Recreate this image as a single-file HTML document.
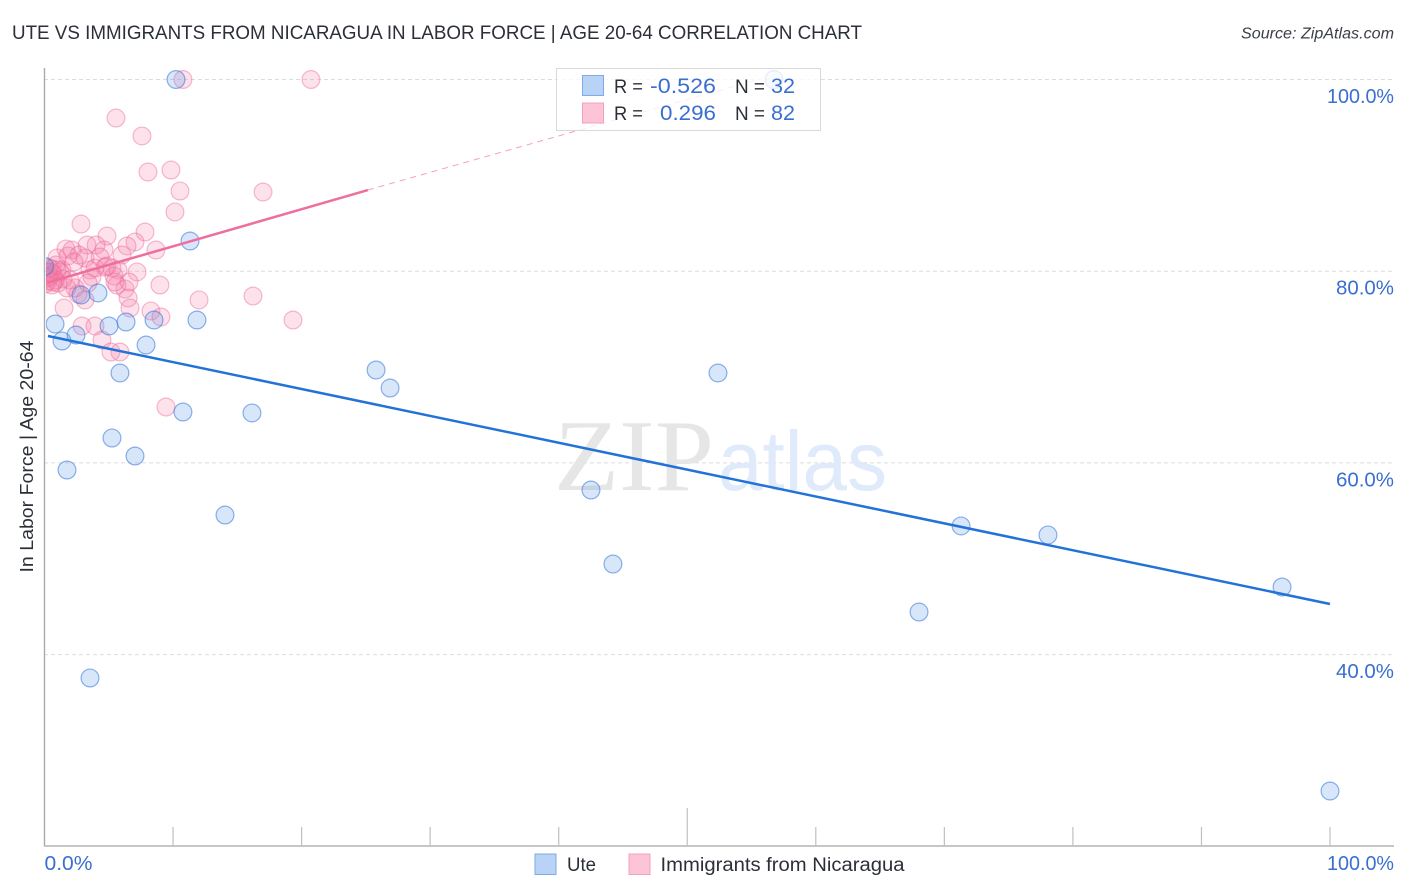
<!DOCTYPE html>
<html>
<head>
<meta charset="utf-8">
<style>
html,body{margin:0;padding:0;background:#fff;}
svg{display:block;font-family:"Liberation Sans",sans-serif;}
</style>
</head>
<body>
<svg id="chart" width="1406" height="892" viewBox="0 0 1406 892">
  <defs><clipPath id="plotClip"><rect x="46" y="60" width="1348" height="786"/></clipPath></defs>
  <rect x="0" y="0" width="1406" height="892" fill="#fff"/>
  <text x="12" y="39" font-size="19" fill="#2b2f38" textLength="850" lengthAdjust="spacingAndGlyphs">UTE VS IMMIGRANTS FROM NICARAGUA IN LABOR FORCE | AGE 20-64 CORRELATION CHART</text>
  <text x="1394" y="38.500" font-size="15.500" font-style="italic" fill="#3a3f47" text-anchor="end" textLength="153" lengthAdjust="spacingAndGlyphs">Source: ZipAtlas.com</text>
  <g id="grid"></g>
  <g>
    <text x="554" y="490" font-family="'Liberation Serif',serif" font-size="102" fill="#e6e6e6" textLength="160" lengthAdjust="spacingAndGlyphs">ZIP</text>
    <text x="718" y="490" font-size="84" fill="#dfeafa" textLength="169" lengthAdjust="spacingAndGlyphs">atlas</text>
  </g>
  <g id="pinkPoints" clip-path="url(#plotClip)"></g>
  <g id="bluePoints" clip-path="url(#plotClip)"></g>
  <g id="lines"></g>
  <g id="axes"></g>
  <text x="0" y="0" transform="translate(33,456.500) rotate(-90)" font-size="18" fill="#2b2f38" text-anchor="middle" textLength="232" lengthAdjust="spacingAndGlyphs">In Labor Force | Age 20-64</text>
  <g id="tickLabels"></g>

  <g>
    <rect x="556.500" y="68.500" width="264" height="62" fill="#fff" fill-opacity="0.78" stroke="#d9d9d9" stroke-width="1"/>
    <rect x="582.500" y="75.500" width="21" height="20" fill="#b8d3f6" stroke="#7eaae6" stroke-width="1"/>
    <rect x="582.500" y="103" width="21" height="20" fill="#fdc4d6" stroke="#f2a0bd" stroke-width="1"/>
    <text x="614" y="93" font-size="19" fill="#2b2f38" textLength="29" lengthAdjust="spacingAndGlyphs">R =</text>
    <text x="650" y="93" font-size="21" fill="#3a6fd0" textLength="66" lengthAdjust="spacingAndGlyphs">-0.526</text>
    <text x="735" y="93" font-size="19" fill="#2b2f38" textLength="30" lengthAdjust="spacingAndGlyphs">N =</text>
    <text x="771" y="93" font-size="21" fill="#3a6fd0" textLength="24" lengthAdjust="spacingAndGlyphs">32</text>
    <text x="614" y="120" font-size="19" fill="#2b2f38" textLength="29" lengthAdjust="spacingAndGlyphs">R =</text>
    <text x="660" y="120" font-size="21" fill="#3a6fd0" textLength="56" lengthAdjust="spacingAndGlyphs">0.296</text>
    <text x="735" y="120" font-size="19" fill="#2b2f38" textLength="30" lengthAdjust="spacingAndGlyphs">N =</text>
    <text x="771" y="120" font-size="21" fill="#3a6fd0" textLength="24" lengthAdjust="spacingAndGlyphs">82</text>
  </g>

  <g>
    <rect x="535" y="854" width="21" height="20.500" fill="#b8d3f6" stroke="#7eaae6" stroke-width="1"/>
    <text x="567" y="871" font-size="19" fill="#2b2f38" textLength="29" lengthAdjust="spacingAndGlyphs">Ute</text>
    <rect x="629" y="854" width="21" height="20.500" fill="#fdc4d6" stroke="#f2a0bd" stroke-width="1"/>
    <text x="660.500" y="871" font-size="19" fill="#2b2f38" textLength="244" lengthAdjust="spacingAndGlyphs">Immigrants from Nicaragua</text>
  </g>
</svg>
<script>
// Chart data (percent values)
var uteX = [10.23,56.75,11.32,0.82,1.36,2.45,2.84,4.16,5.02,6.34,8.52,11.86,7.90,5.87,10.77,16.14,5.25,7.04,1.75,14.04,25.79,26.88,52.39,42.51,44.22,71.30,78.06,68.03,96.27,3.54,100.0,0];
var uteY = [100,100,83.15,74.49,72.72,73.34,77.52,77.73,74.28,74.70,74.91,74.91,72.30,69.38,65.31,65.21,62.60,60.72,59.26,54.56,69.69,67.81,69.38,57.17,49.45,53.42,52.48,44.44,47.05,37.56,25.77,80.5];
var immX = [10.77,20.73,5.56,7.58,8.05,9.84,10.54,17.0,10.15,2.84,7.82,4.86,7.04,6.42,8.67,4.63,4.01,3.31,1.67,2.14,6.03,2.68,3.15,4.32,0.97,1.83,5.25,4.71,3.54,5.72,7.2,1.36,0.58,0.27,0.04,1.21,0.66,0.12,0.43,0.04,0.58,1.75,2.37,3.7,5.41,6.26,5.64,6.57,8.98,6.5,3.15,12.02,16.22,1.52,6.65,8.28,9.06,19.33,2.92,3.93,4.47,5.87,5.17,9.45,2.61,5.48,2.29,3.93,4.86,0.89,1.05,1.44,1.98,3.38,0.82,0.27,0,0.5,0.97,0.27,0.66,0.35];
var immY = [100,100,95.98,94.11,90.35,90.56,88.37,88.26,86.18,84.92,84.09,83.67,83.05,82.63,82.21,82.21,82.73,82.73,82.32,82.21,81.69,81.69,81.38,81.48,81.38,81.59,80.33,80.44,80.13,80.13,79.92,80.13,80.23,79.92,79.92,79.92,79.71,79.29,79.5,78.66,78.56,78.25,78.25,79.4,79.5,78.14,78.56,78.87,78.56,77.21,77.0,77.0,77.41,76.16,76.16,75.85,75.22,74.91,74.28,74.28,72.82,71.57,71.57,65.83,77.62,78.87,80.96,80.33,80.54,80.65,78.77,79.19,79.08,78.77,79.08,78.98,79.5,79.9,80.13,79.3,78.87,80.33];
var uteTrendX = [0.27,100];
var uteTrendY = [73.24,45.28];
var immTrendX = [0.2,25.16];
var immTrendY = [78.8,88.47];
var immTrendDashX = [25.16,55.5];
var immTrendDashY = [88.47,100];
var yTickValues = [100,80,60,40];
var yTickLabels = ["100.0%","80.0%","60.0%","40.0%"];
var xTickValues = [10,20,30,40,50,60,70,80,90,100];
var xEdgeLabels = ["0.0%","100.0%"];

function sx(v){return 44.5+v*12.855;}
function sy(v){return 79.5+(100-v)*9.585;}
function labelWidth(s){return s.length>=6?67:(s.length===5?58:48);}
var NS='http://www.w3.org/2000/svg';
function mk(tag,parent,attrs){
  var e=document.createElementNS(NS,tag);
  for(var k in attrs){e.setAttribute(k,attrs[k]);}
  document.getElementById(parent).appendChild(e);
  return e;
}
var el,i;
for(i=0;i<yTickValues.length;i++){
  el=mk('line','grid',{x1:44,x2:1394,y1:sy(yTickValues[i]),y2:sy(yTickValues[i]),stroke:'#dcdcdc','stroke-width':1,'stroke-dasharray':'4 3'});
  
  
  el=mk('text','tickLabels',{x:1394,y:sy(yTickValues[i])+23.5,'text-anchor':'end','font-size':20,fill:'#3a6fd0',textLength:labelWidth(yTickLabels[i]),lengthAdjust:'spacingAndGlyphs'});
  el.textContent=yTickLabels[i];
  
  
}
for(i=0;i<immX.length;i++){
  el=mk('circle','pinkPoints',{cx:sx(immX[i]),cy:sy(immY[i]),r:8.9,fill:'rgba(245,130,170,0.24)',stroke:'rgba(236,105,150,0.45)','stroke-width':1.2});
  
  
}
for(i=0;i<uteX.length;i++){
  el=mk('circle','bluePoints',{cx:sx(uteX[i]),cy:sy(uteY[i]),r:8.9,fill:'rgba(90,150,235,0.24)',stroke:'rgba(50,115,215,0.55)','stroke-width':1.2});
  
  
}
el=mk('line','lines',{x1:sx(immTrendDashX[0]),y1:sy(immTrendDashY[0]),x2:sx(immTrendDashX[1]),y2:sy(immTrendDashY[1]),stroke:'#ef7aa5','stroke-width':1,'stroke-dasharray':'6 5','stroke-opacity':0.7});


el=mk('line','lines',{x1:sx(immTrendX[0]),y1:sy(immTrendY[0]),x2:sx(immTrendX[1]),y2:sy(immTrendY[1]),stroke:'#ee6f9f','stroke-width':2.5});


el=mk('line','lines',{x1:sx(uteTrendX[0]),y1:sy(uteTrendY[0]),x2:sx(uteTrendX[1]),y2:sy(uteTrendY[1]),stroke:'#2272d8','stroke-width':2.5});



el=mk('line','axes',{x1:44.5,x2:44.5,y1:68,y2:846.5,stroke:'#aaaaaa','stroke-width':1.4});


el=mk('line','axes',{x1:44,x2:1394,y1:846,y2:846,stroke:'#b4b4b4','stroke-width':1.4});


for(i=0;i<xTickValues.length;i++){
  el=mk('line','axes',{x1:sx(xTickValues[i]),x2:sx(xTickValues[i]),y1:xTickValues[i]===50?808:827,y2:846,stroke:'#c0c0c0','stroke-width':1.2});
  
  
}
el=mk('text','tickLabels',{x:44.5,y:870,'font-size':20,fill:'#3a6fd0',textLength:labelWidth(xEdgeLabels[0]),lengthAdjust:'spacingAndGlyphs'});
el.textContent=xEdgeLabels[0];


el=mk('text','tickLabels',{x:1394,y:870,'text-anchor':'end','font-size':20,fill:'#3a6fd0',textLength:labelWidth(xEdgeLabels[1]),lengthAdjust:'spacingAndGlyphs'});
el.textContent=xEdgeLabels[1];


</script>
</body>
</html>
